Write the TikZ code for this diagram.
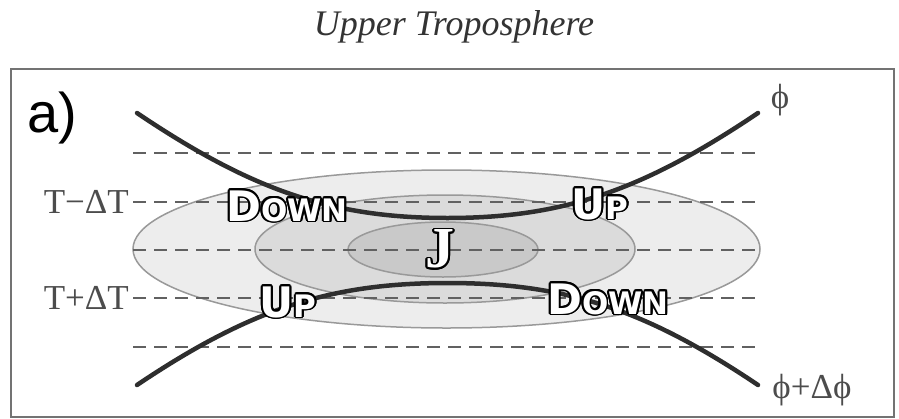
\documentclass[tikz,border=0pt]{standalone}
\usepackage{fontspec}
\setmainfont{Liberation Serif}
\newfontfamily\panelfont{Liberation Sans}
\newfontfamily\flowfont{DejaVu Sans}
\usepackage{contour}
\contourlength{1.8pt}
\newcommand{\flowlbl}[2]{\contour{black}{{\fontsize{42}{42}\selectfont #1}{\fontsize{31}{31}\selectfont #2}}}

\begin{document}
\begin{tikzpicture}[x=1pt, y=-1pt,
  isoline/.style={dash pattern=on 13pt off 8pt, line width=2.5pt, draw=black!62},
  jetzone/.style={draw=black!40, line width=1.5pt},
  heightline/.style={line width=4.5pt, draw=black!82, line cap=round},
  flow/.style={inner sep=0pt, text=white, font=\flowfont\bfseries},
  tlabel/.style={inner sep=0pt, font=\fontsize{35}{35}\selectfont, text=black!70}]
  \useasboundingbox (0,0) rectangle (899,418);
  % title and frame
  \node[inner sep=0pt, font=\itshape\fontsize{36}{36}\selectfont, text=black!80] (title) at (454,27) {Upper Troposphere};
  \draw[draw=black!55, line width=2.5pt] (11,69) rectangle (894,417);
  \node[inner sep=0pt, font=\panelfont\fontsize{56}{56}\selectfont] (panel) at (52,118) {a)};
  % jet core
  \draw[jetzone, fill=black!7] (446.5,249) ellipse [x radius=313.5, y radius=79];
  \draw[jetzone, fill=black!14] (445,249) ellipse [x radius=190, y radius=54];
  \draw[jetzone, fill=black!21] (443,249.5) ellipse [x radius=95, y radius=27.5];
  % isotherms
  \node[tlabel, anchor=east] (tminus) at (129,202) {T−ΔT};
  \node[tlabel, anchor=east] (tplus) at (129,298) {T+ΔT};
  \foreach \yy in {153,202,250,298,347}
    \draw[isoline] (133,\yy) -- (760,\yy);
  % height contours
  \draw[heightline] (137,113) .. controls (250,189) and (330,218) .. (447.5,218)
    .. controls (565,218) and (645,189) .. (758,113);
  \draw[heightline] (137,385) .. controls (250,309) and (330,283) .. (447.5,283)
    .. controls (565,283) and (645,309) .. (758,385);
  \node[tlabel] (phi) at (780,100) {ϕ};
  \node[tlabel] (phiplus) at (812,390) {ϕ+Δϕ};
  % vertical motion
  \node[flow] (downl) at (287,207) {\flowlbl{D}{OWN}};
  \node[flow] (upr) at (600,205) {\flowlbl{U}{P}};
  \node[flow] (upl) at (288,303) {\flowlbl{U}{P}};
  \node[flow] (downr) at (608,300) {\flowlbl{D}{OWN}};
  \node[inner sep=0pt, text=white, font=\bfseries\fontsize{58}{58}\selectfont] (jet) at (440,250) {\contour{black}{J}};
\end{tikzpicture}
\end{document}
